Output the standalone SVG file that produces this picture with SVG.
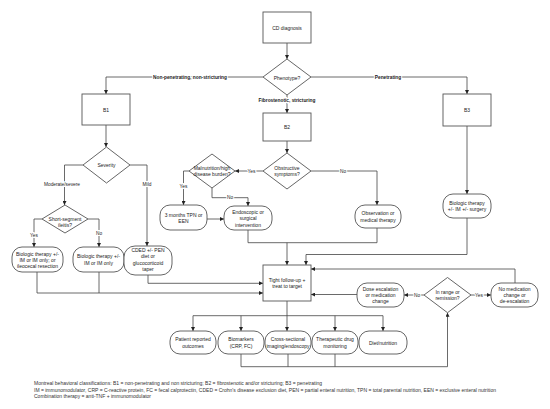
<svg xmlns="http://www.w3.org/2000/svg" width="550" height="409" viewBox="0 0 550 409">
<style>
.n{fill:#fff;stroke:#555;stroke-width:0.9}
.t{font-family:"Liberation Sans",Arial,sans-serif;font-size:5px;fill:#222;text-anchor:middle;dominant-baseline:central}
.e{fill:none;stroke:#444;stroke-width:0.8}
.l{font-family:"Liberation Sans",Arial,sans-serif;font-size:4.8px;fill:#222;text-anchor:middle;dominant-baseline:central;stroke:#fff;stroke-width:2.2;paint-order:stroke}
.b{font-weight:bold}
.f{font-family:"Liberation Sans",Arial,sans-serif;font-size:5px;fill:#333}
</style>
<defs>
<marker id="a" markerWidth="4" markerHeight="4" refX="4" refY="2" orient="auto" markerUnits="userSpaceOnUse">
<path d="M0,0 L4,2 L0,4 Z" fill="#222"/>
</marker>
</defs>
<rect width="550" height="409" fill="#fff"/>
<g id="connectors">
<path class="e" d="M287,43 V59" marker-end="url(#a)"/>
<path class="e" d="M263,77 H106 V94" marker-end="url(#a)"/>
<path class="e" d="M287,95 V113" marker-end="url(#a)"/>
<path class="e" d="M311,77 H467 V94" marker-end="url(#a)"/>
<path class="e" d="M106,125 V147" marker-end="url(#a)"/>
<path class="e" d="M83,165 H64.5 V205" marker-end="url(#a)"/>
<path class="e" d="M130,165 H147 V246" marker-end="url(#a)"/>
<path class="e" d="M42,219 H34 V247" marker-end="url(#a)"/>
<path class="e" d="M88,219 H99 V247" marker-end="url(#a)"/>
<path class="e" d="M287,141 V153" marker-end="url(#a)"/>
<path class="e" d="M263,171 H235" marker-end="url(#a)"/>
<path class="e" d="M311,171 H377 V205" marker-end="url(#a)"/>
<path class="e" d="M189,171 H183.5 V205" marker-end="url(#a)"/>
<path class="e" d="M212,188 V197.7 H248 V206" marker-end="url(#a)"/>
<path class="e" d="M207,219 H224" marker-end="url(#a)"/>
<path class="e" d="M248,230 V242.7 H287 V265" marker-end="url(#a)"/>
<path class="e" d="M377,228 V242.7 H287"/>
<path class="e" d="M467,126 V194" marker-end="url(#a)"/>
<path class="e" d="M467,218 V254.5 H306 V265" marker-end="url(#a)"/>
<path class="e" d="M148,275 V283.3 H263" marker-end="url(#a)"/>
<path class="e" d="M37,272 V293 H263" marker-end="url(#a)"/>
<path class="e" d="M99,272 V293"/>
<path class="e" d="M287,301 V315.7 M193,315.7 H383"/>
<path class="e" d="M193,315.7 V331" marker-end="url(#a)"/>
<path class="e" d="M241,315.7 V331" marker-end="url(#a)"/>
<path class="e" d="M287,315.7 V331" marker-end="url(#a)"/>
<path class="e" d="M335,315.7 V331" marker-end="url(#a)"/>
<path class="e" d="M383,315.7 V331" marker-end="url(#a)"/>
<path class="e" d="M241,354 V366.7 M288,354 V366.7 M335,354 V366.7"/>
<path class="e" d="M241,366.7 H447.5 V312.7" marker-end="url(#a)"/>
<path class="e" d="M424,295 H404" marker-end="url(#a)"/>
<path class="e" d="M471,295 H491" marker-end="url(#a)"/>
<path class="e" d="M357,294.5 H311" marker-end="url(#a)"/>
<path class="e" d="M515,283 V269 H311" marker-end="url(#a)"/>
<text class="l b" x="190" y="77">Non-penetrating, non-stricturing</text>
<text class="l b" x="287" y="100">Fibrostenotic, stricturing</text>
<text class="l b" x="388" y="77">Penetrating</text>
<text class="l" x="62" y="184">Moderate/severe</text>
<text class="l" x="147" y="184">Mild</text>
<text class="l" x="34" y="235">Yes</text>
<text class="l" x="99" y="233">No</text>
<text class="l" x="251.5" y="171">Yes</text>
<text class="l" x="343" y="171">No</text>
<text class="l" x="183.5" y="186">Yes</text>
<text class="l" x="230" y="197.7">No</text>
<text class="l" x="417" y="295">No</text>
<text class="l" x="479" y="295">Yes</text>
</g>
<g id="cd"><rect class="n" x="263" y="12" width="48" height="31"/><text class="t" x="287" y="27.5">CD diagnosis</text></g>
<g id="phenotype"><polygon class="n" points="287,59 311,77 287,95 263,77"/><text class="t" x="287" y="77.5">Phenotype?</text></g>
<g id="b1"><rect class="n" x="82" y="94" width="48" height="31"/><text class="t" x="106" y="109.5">B1</text></g>
<g id="b2"><rect class="n" x="263" y="113" width="48" height="28"/><text class="t" x="287" y="127">B2</text></g>
<g id="b3"><rect class="n" x="443" y="94" width="48" height="32"/><text class="t" x="467" y="110">B3</text></g>
<g id="severity"><polygon class="n" points="106.5,147 130,165 106.5,183 83,165"/><text class="t" x="106.5" y="165">Severity</text></g>
<g id="shortseg"><polygon class="n" points="65,205 88,219 65,233 42,219"/><text class="t" x="65" y="218.5">Short-segment</text><text class="t" x="65" y="224.5">ileitis?</text></g>
<g id="bio1"><rect class="n" x="12" y="247" width="51" height="25" rx="10"/><text class="t" x="37.5" y="253.5">Biologic therapy +/-</text><text class="t" x="37.5" y="259.5">IM or IM only; or</text><text class="t" x="37.5" y="265.5">ileocecal resection</text></g>
<g id="bio2"><rect class="n" x="73" y="247" width="51" height="25" rx="10"/><text class="t" x="98.5" y="256.3">Biologic therapy +/-</text><text class="t" x="98.5" y="262.5">IM or IM only</text></g>
<g id="cded"><rect class="n" x="124" y="246" width="48" height="29" rx="11"/><text class="t" x="148" y="250">CDED +/- PEN</text><text class="t" x="148" y="256.4">diet or</text><text class="t" x="148" y="262.8">glucocorticoid</text><text class="t" x="148" y="269.2">taper</text></g>
<g id="obstructive"><polygon class="n" points="287,153 311,171 287,189 263,171"/><text class="t" x="287" y="167.5">Obstructive</text><text class="t" x="287" y="174">symptoms?</text></g>
<g id="malnutrition"><polygon class="n" points="212,154 235,171 212,188 189,171"/><text class="t" x="212" y="168">Malnutrition/high</text><text class="t" x="212" y="174">disease burden?</text></g>
<g id="tpn"><rect class="n" x="160" y="205" width="47" height="25" rx="10"/><text class="t" x="183.5" y="215">3 months TPN or</text><text class="t" x="183.5" y="221.3">EEN</text></g>
<g id="endoscopic"><rect class="n" x="224" y="206" width="48" height="24" rx="10"/><text class="t" x="248" y="211.8">Endoscopic or</text><text class="t" x="248" y="218.3">surgical</text><text class="t" x="248" y="224.8">intervention</text></g>
<g id="observation"><rect class="n" x="355" y="205" width="46" height="23" rx="10"/><text class="t" x="378" y="213.3">Observation or</text><text class="t" x="378" y="219.5">medical therapy</text></g>
<g id="biosurg"><rect class="n" x="443" y="194" width="48" height="24" rx="10"/><text class="t" x="467" y="202.8">Biologic therapy</text><text class="t" x="467" y="209.2">+/- IM +/- surgery</text></g>
<g id="tight"><rect class="n" x="263" y="265" width="48" height="36"/><text class="t" x="287" y="279.5">Tight follow-up  +</text><text class="t" x="287" y="285.7">treat to target</text></g>
<g id="dose"><rect class="n" x="357" y="283" width="47" height="24" rx="10"/><text class="t" x="380.5" y="288.5">Dose escalation</text><text class="t" x="380.5" y="294.6">or medication</text><text class="t" x="380.5" y="300.7">change</text></g>
<g id="inrange"><polygon class="n" points="447.5,277.5 471,295 447.5,312.7 424,295"/><text class="t" x="447.5" y="291.8">In range or</text><text class="t" x="447.5" y="297.8">remission?</text></g>
<g id="nomed"><rect class="n" x="491" y="283" width="47" height="24" rx="10"/><text class="t" x="514.5" y="288.5">No medication</text><text class="t" x="514.5" y="294.6">change or</text><text class="t" x="514.5" y="300.7">de-escalation</text></g>
<g id="patient"><rect class="n" x="170" y="331" width="46" height="23" rx="10"/><text class="t" x="193" y="339.3">Patient reported</text><text class="t" x="193" y="345.5">outcomes</text></g>
<g id="biomarkers"><rect class="n" x="218" y="331" width="46" height="23" rx="10"/><text class="t" x="241" y="339.3">Biomarkers</text><text class="t" x="241" y="345.5">(CRP, FC)</text></g>
<g id="cross"><rect class="n" x="265" y="331" width="46" height="23" rx="10"/><text class="t" x="288" y="339.3">Cross-sectional</text><text class="t" x="288" y="345.5">imaging/endoscopy</text></g>
<g id="tdm"><rect class="n" x="312" y="331" width="46" height="23" rx="10"/><text class="t" x="335" y="339.3">Therapeutic drug</text><text class="t" x="335" y="345.5">monitoring</text></g>
<g id="diet"><rect class="n" x="359" y="331" width="48" height="23" rx="10"/><text class="t" x="383" y="342.5">Diet/nutrition</text></g>
<g id="footer">
<text class="f" x="34" y="385">Montreal behavioral classifications: B1 = non-penetrating and non stricturing; B2 = fibrostenotic and/or stricturing; B3 = penetrating</text>
<text class="f" x="34" y="391.5">IM = immunomodulator, CRP = C-reactive protein, FC = fecal calprotectin, CDED = Crohn's disease exclusion diet, PEN = partial enteral nutrition, TPN = total parental nutrition, EEN = exclusive enteral nutrition</text>
<text class="f" x="34" y="398">Combination therapy = anti-TNF + immunomodulator</text>
</g>
</svg>
